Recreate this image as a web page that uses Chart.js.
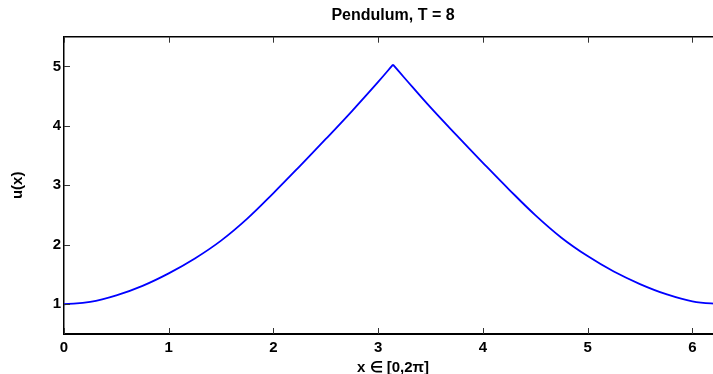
<!DOCTYPE html>
<html>
<head>
<meta charset="utf-8">
<script src="https://cdn.jsdelivr.net/npm/chart.js@4"></script>
<style>
    html, body { margin: 0; padding: 0; background: #fff; overflow: hidden; }
    #pendulumChart { display: block; }
</style>
</head>
<body>
<canvas id="pendulumChart" width="722" height="374"></canvas>
<script>
// values, split at the peak (x = pi) so the cusp stays sharp
const leftX = [0, 0.25, 0.5, 0.75, 1, 1.25, 1.5, 1.75, 2, 2.25, 2.5, 2.75, 3, 3.1416];
const leftU = [1.00, 1.04, 1.15, 1.31, 1.52, 1.77, 2.07, 2.44, 2.87, 3.32, 3.78, 4.25, 4.74, 5.03];
const rightX = [3.1416, 3.25, 3.5, 3.75, 4, 4.25, 4.5, 4.75, 5, 5.25, 5.5, 5.75, 6, 6.2832];
const rightU = [5.03, 4.81, 4.31, 3.84, 3.38, 2.93, 2.50, 2.12, 1.81, 1.55, 1.34, 1.17, 1.05, 1.00];
const xTicks = [0, 1, 2, 3, 4, 5, 6];
const yTicks = [1, 2, 3, 4, 5];

const fontFamily = '"Liberation Sans", Arial, Helvetica, sans-serif';
const lineColor = '#0000ff';

function toPoints(xs, ys) {
    let pts = [];
    for (let i = 0; i < xs.length; i++) {
        pts.push({x: xs[i], y: ys[i]});
    }
    return pts;
}

// matlab style: top box line and ticks pointing into the axes
const insideTicks = {
    id: 'insideTicks',
    afterDraw(chart) {
        const ctx = chart.ctx;
        const area = chart.chartArea;
        const xs = chart.scales.x;
        const ys = chart.scales.y;
        const len = 6;
        ctx.save();
        ctx.strokeStyle = '#000';
        ctx.lineWidth = 1.5;
        ctx.beginPath();
        ctx.moveTo(area.left, area.top);
        ctx.lineTo(area.right, area.top);
        ctx.stroke();
        ctx.strokeStyle = '#333';
        ctx.lineWidth = 1;
        ctx.beginPath();
        xTicks.forEach(v => {
            const px = Math.round(xs.getPixelForValue(v)) + 0.5;
            ctx.moveTo(px, area.bottom);
            ctx.lineTo(px, area.bottom - len);
            ctx.moveTo(px, area.top);
            ctx.lineTo(px, area.top + len);
        });
        yTicks.forEach(v => {
            const py = Math.round(ys.getPixelForValue(v)) + 0.5;
            ctx.moveTo(area.left, py);
            ctx.lineTo(area.left + len, py);
        });
        ctx.stroke();
        ctx.restore();
    }
};

function pendulumChart() {
    const ctx = document.getElementById('pendulumChart').getContext('2d');
    return new Chart(ctx, {
        type: 'line',
        data: {
            datasets: [
                {
                    data: toPoints(leftX, leftU),
                    borderColor: lineColor,
                    borderWidth: 1.8,
                    pointRadius: 0,
                    tension: 0.4,
                    fill: false
                },
                {
                    data: toPoints(rightX, rightU),
                    borderColor: lineColor,
                    borderWidth: 1.8,
                    pointRadius: 0,
                    tension: 0.4,
                    fill: false
                }
            ]
        },
        options: {
            responsive: false,
            animation: false,
            layout: { padding: 0 },
            plugins: {
                legend: { display: false },
                tooltip: { enabled: false },
                title: {
                    display: true,
                    text: 'Pendulum, T = 8',
                    color: '#000',
                    fullSize: false,
                    font: { family: fontFamily, size: 16, weight: 'bold', lineHeight: 1.2 },
                    padding: { top: 5.7, bottom: 11.8 }
                }
            },
            scales: {
                x: {
                    type: 'linear',
                    min: 0,
                    max: 6.2832,
                    grid: { display: false, drawTicks: false, tickLength: 0 },
                    border: { display: true, color: '#000', width: 2 },
                    afterBuildTicks: (scale) => { scale.ticks = xTicks.map(v => ({value: v})); },
                    afterFit: (scale) => { scale.height = 40; },
                    ticks: {
                        color: '#000',
                        padding: 5,
                        maxRotation: 0,
                        font: { family: fontFamily, size: 15, weight: 'bold' }
                    },
                    title: {
                        display: true,
                        text: 'x ∈ [0,2π]',
                        color: '#000',
                        font: { family: fontFamily, size: 15, weight: 'bold', lineHeight: 1 },
                        padding: { top: 0, bottom: -1 }
                    }
                },
                y: {
                    type: 'linear',
                    min: 0.5,
                    max: 5.5,
                    grid: { display: false, drawTicks: false, tickLength: 0 },
                    border: { display: true, color: '#000', width: 1.5 },
                    afterBuildTicks: (scale) => { scale.ticks = yTicks.map(v => ({value: v})); },
                    afterFit: (scale) => { scale.width = 64; },
                    ticks: {
                        color: '#000',
                        padding: 3,
                        font: { family: fontFamily, size: 15, weight: 'bold' }
                    },
                    title: {
                        display: true,
                        text: 'u(x)',
                        color: '#000',
                        font: { family: fontFamily, size: 15, weight: 'bold', lineHeight: 1 },
                        padding: { top: 10.5, bottom: 0 }
                    }
                }
            }
        },
        plugins: [insideTicks]
    });
}

pendulumChart();
</script>
</body>
</html>
